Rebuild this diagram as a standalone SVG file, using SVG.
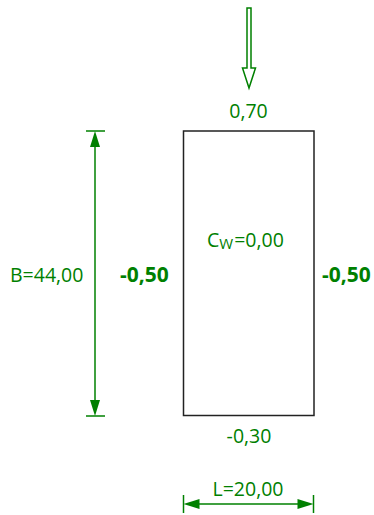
<svg xmlns="http://www.w3.org/2000/svg" width="374" height="515" viewBox="0 0 374 515">
<style>
.t{font-family:"Open Sans","DejaVu Sans",sans-serif;font-size:19.5px;fill:#008000}
.b{font-weight:bold;font-size:21px}
.dim{stroke:#008000;stroke-width:1.5;fill:none}
.ah{fill:#008000;stroke:none}
</style>
<rect width="374" height="515" fill="#fff"/>
<g id="wall">
<rect x="183.5" y="131" width="130.5" height="284.5" fill="none" stroke="#222" stroke-width="1.5"/>
<text class="t" x="207" y="247">C<tspan font-size="15" dy="2">W</tspan><tspan dy="-2" dx="1">=0,00</tspan></text>
</g>
<g id="wind">
<path d="M247,8 L251,8 L251,68 L255.5,68 L249,88 L242.5,68 L247,68 Z" fill="none" stroke="#008000" stroke-width="1.5"/>
</g>
<g id="labels">
<text class="t" x="248.5" y="118" text-anchor="middle">0,70</text>
<text class="t" x="249" y="443" text-anchor="middle">-0,30</text>
<text class="t b" x="120" y="282">-0,50</text>
<text class="t b" x="322" y="282">-0,50</text>
</g>
<g id="connectors">
<line class="dim" x1="86" y1="131" x2="105" y2="131"/>
<line class="dim" x1="86" y1="416" x2="105" y2="416"/>
<line class="dim" x1="95" y1="140" x2="95" y2="407"/>
<polygon class="ah" points="95,131 100,147 90,147"/>
<polygon class="ah" points="95,416 100,400 90,400"/>
<line class="dim" x1="183.5" y1="495" x2="183.5" y2="513"/>
<line class="dim" x1="313.5" y1="495" x2="313.5" y2="513"/>
<line class="dim" x1="190" y1="504" x2="307" y2="504"/>
<polygon class="ah" points="183.5,504 199.5,499 199.5,509"/>
<polygon class="ah" points="313.5,504 297.5,499 297.5,509"/>
<text class="t" x="10" y="282">B=44,00</text>
<text class="t" x="248" y="496" text-anchor="middle">L=20,00</text>
</g>
</svg>
